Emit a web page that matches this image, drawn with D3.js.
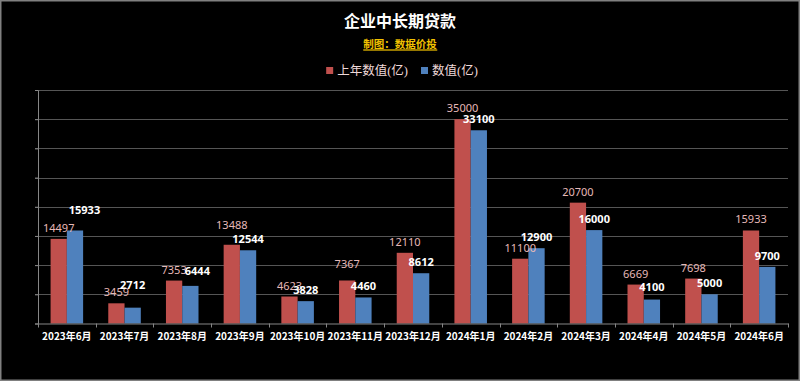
<!DOCTYPE html>
<html>
<head>
<meta charset="utf-8">
<script src="https://cdn.jsdelivr.net/npm/d3@7/dist/d3.min.js"></script>
<style>
  html, body { margin: 0; padding: 0; background: #000; }
  svg { display: block; }
</style>
</head>
<body>
<svg id="chart" width="800" height="381"></svg>
<script>
const categories = ["2023年6月","2023年7月","2023年8月","2023年9月","2023年10月","2023年11月","2023年12月","2024年1月","2024年2月","2024年3月","2024年4月","2024年5月","2024年6月"];
const prevYearValues = [14497, 3459, 7353, 13488, 4623, 7367, 12110, 35000, 11100, 20700, 6669, 7698, 15933];
const currentValues = [15933, 2712, 6444, 12544, 3828, 4460, 8612, 33100, 12900, 16000, 4100, 5000, 9700];
const seriesNames = ["上年数值(亿)", "数值(亿)"];
const yTicks = [0, 5000, 10000, 15000, 20000, 25000, 30000, 35000, 40000];
const titleText = "企业中长期贷款";
const subtitleText = "制图：数据价投";

const W = 800, H = 381;
const plot = { left: 38, right: 788, top: 90, bottom: 323.5 };
const colors = ["#c0504d", "#4f81bd"];
const labelColors = ["#e6b9b8", "#ffffff"];
const cjk = "'Noto Sans CJK SC', 'Noto Sans', sans-serif";
// manual label nudges (as in the reference), keyed "category-series": [dx, dy]
const labelNudge = { "0-1": [9.5, -9], "1-1": [0, -12], "2-1": [7, -4], "3-0": [0, -9], "5-0": [0, -5], "10-1": [0, -2] };

const svg = d3.select("#chart");

svg.append("rect").attr("x", 0).attr("y", 0).attr("width", W).attr("height", H).attr("fill", "#000");
svg.append("rect").attr("x", 0.75).attr("y", 0.75).attr("width", W - 1.5).attr("height", H - 1.5)
  .attr("fill", "none").attr("stroke", "#808080").attr("stroke-width", 1.5);

const y = d3.scaleLinear().domain([0, 40000]).range([plot.bottom, plot.top]);
const x0 = d3.scaleBand().domain(categories).range([plot.left, plot.right]).padding(0);
const bw = x0.bandwidth();
const x1 = d3.scaleBand().domain([0, 1]).range([bw * 0.218, bw * 0.782]).padding(0);

// gridlines
svg.append("g").selectAll("line").data(yTicks.filter(t => t > 0)).join("line")
  .attr("x1", plot.left - 3).attr("x2", plot.right)
  .attr("y1", d => Math.round(y(d)) + 0.5).attr("y2", d => Math.round(y(d)) + 0.5)
  .attr("stroke", "#555").attr("stroke-width", 1);

// y axis line with outward ticks (no labels)
const yAxis = d3.axisLeft(y).tickValues(yTicks).tickSize(3).tickFormat("");
const yg = svg.append("g").attr("transform", `translate(${plot.left},0)`).call(yAxis);
yg.select(".domain").attr("stroke", "#868686");
yg.selectAll(".tick line").attr("stroke", "#868686");

// bars
const data = categories.map((c, i) => ({ c, i, vals: [prevYearValues[i], currentValues[i]] }));
const groups = svg.append("g").selectAll("g").data(data).join("g")
  .attr("transform", d => `translate(${x0(d.c)},0)`);
groups.selectAll("rect").data(d => d.vals.map((v, k) => ({ v, k, i: d.i }))).join("rect")
  .attr("x", d => x1(d.k)).attr("width", x1.bandwidth())
  .attr("y", d => y(d.v)).attr("height", d => y(0) - y(d.v))
  .attr("fill", d => colors[d.k]);

// x axis
const xAxis = d3.axisBottom(x0).tickSize(0).tickPadding(9);
const xg = svg.append("g").attr("transform", `translate(0,${plot.bottom})`).call(xAxis);
xg.select(".domain").attr("stroke", "#868686");
xg.selectAll("text").attr("fill", "#fff").attr("font-family", cjk).attr("font-size", "10px").attr("font-weight", "bold");
// boundary ticks
const bounds = categories.map(c => x0(c)).concat([x0(categories[categories.length - 1]) + bw]);
xg.selectAll(".btick").data(bounds).join("line").attr("class", "btick")
  .attr("x1", d => Math.round(d) + 0.5).attr("x2", d => Math.round(d) + 0.5)
  .attr("y1", 0).attr("y2", 4).attr("stroke", "#868686");

// data labels
const nudge = (d) => labelNudge[d.i + "-" + d.k] || [0, 0];
groups.selectAll("text.lbl").data(d => d.vals.map((v, k) => ({ v, k, i: d.i }))).join("text")
  .attr("class", "lbl")
  .attr("x", d => x1(d.k) + x1.bandwidth() / 2 + nudge(d)[0])
  .attr("y", d => y(d.v) - 7 + nudge(d)[1])
  .attr("text-anchor", "middle")
  .attr("font-family", "'Noto Sans', sans-serif")
  .attr("font-size", "11px")
  .attr("font-weight", d => d.k === 1 ? "bold" : "normal")
  .attr("fill", d => labelColors[d.k])
  .text(d => d.v);

// title
svg.append("text").attr("x", 400).attr("y", 27).attr("text-anchor", "middle")
  .attr("font-family", cjk).attr("font-size", "16px").attr("font-weight", "bold").attr("fill", "#fff")
  .text(titleText);
const sub = svg.append("text").attr("x", 400).attr("y", 47.5).attr("text-anchor", "middle")
  .attr("font-family", cjk).attr("font-size", "10.5px").attr("font-weight", "bold").attr("fill", "#f2c200")
  .text(subtitleText);
const sb = sub.node().getBBox();
svg.append("line").attr("x1", sb.x).attr("x2", sb.x + sb.width).attr("y1", 50).attr("y2", 50)
  .attr("stroke", "#c9a100").attr("stroke-width", 1.5);

// legend
const legend = svg.append("g");
let lx = 0;
seriesNames.forEach((name, k) => {
  const g = legend.append("g").attr("transform", `translate(${lx},0)`);
  g.append("rect").attr("x", 0).attr("y", 67).attr("width", 7).attr("height", 7).attr("fill", colors[k]);
  const t = g.append("text").attr("x", 11).attr("y", 74.5)
    .attr("font-family", "'Liberation Serif', 'Noto Sans CJK SC', serif").attr("font-size", "12.5px")
    .attr("fill", "#efd9d9").text(name);
  lx += 11 + t.node().getComputedTextLength() + 13;
});
const lw = lx - 13;
legend.attr("transform", `translate(${402 - lw / 2},0)`);
</script>
</body>
</html>
